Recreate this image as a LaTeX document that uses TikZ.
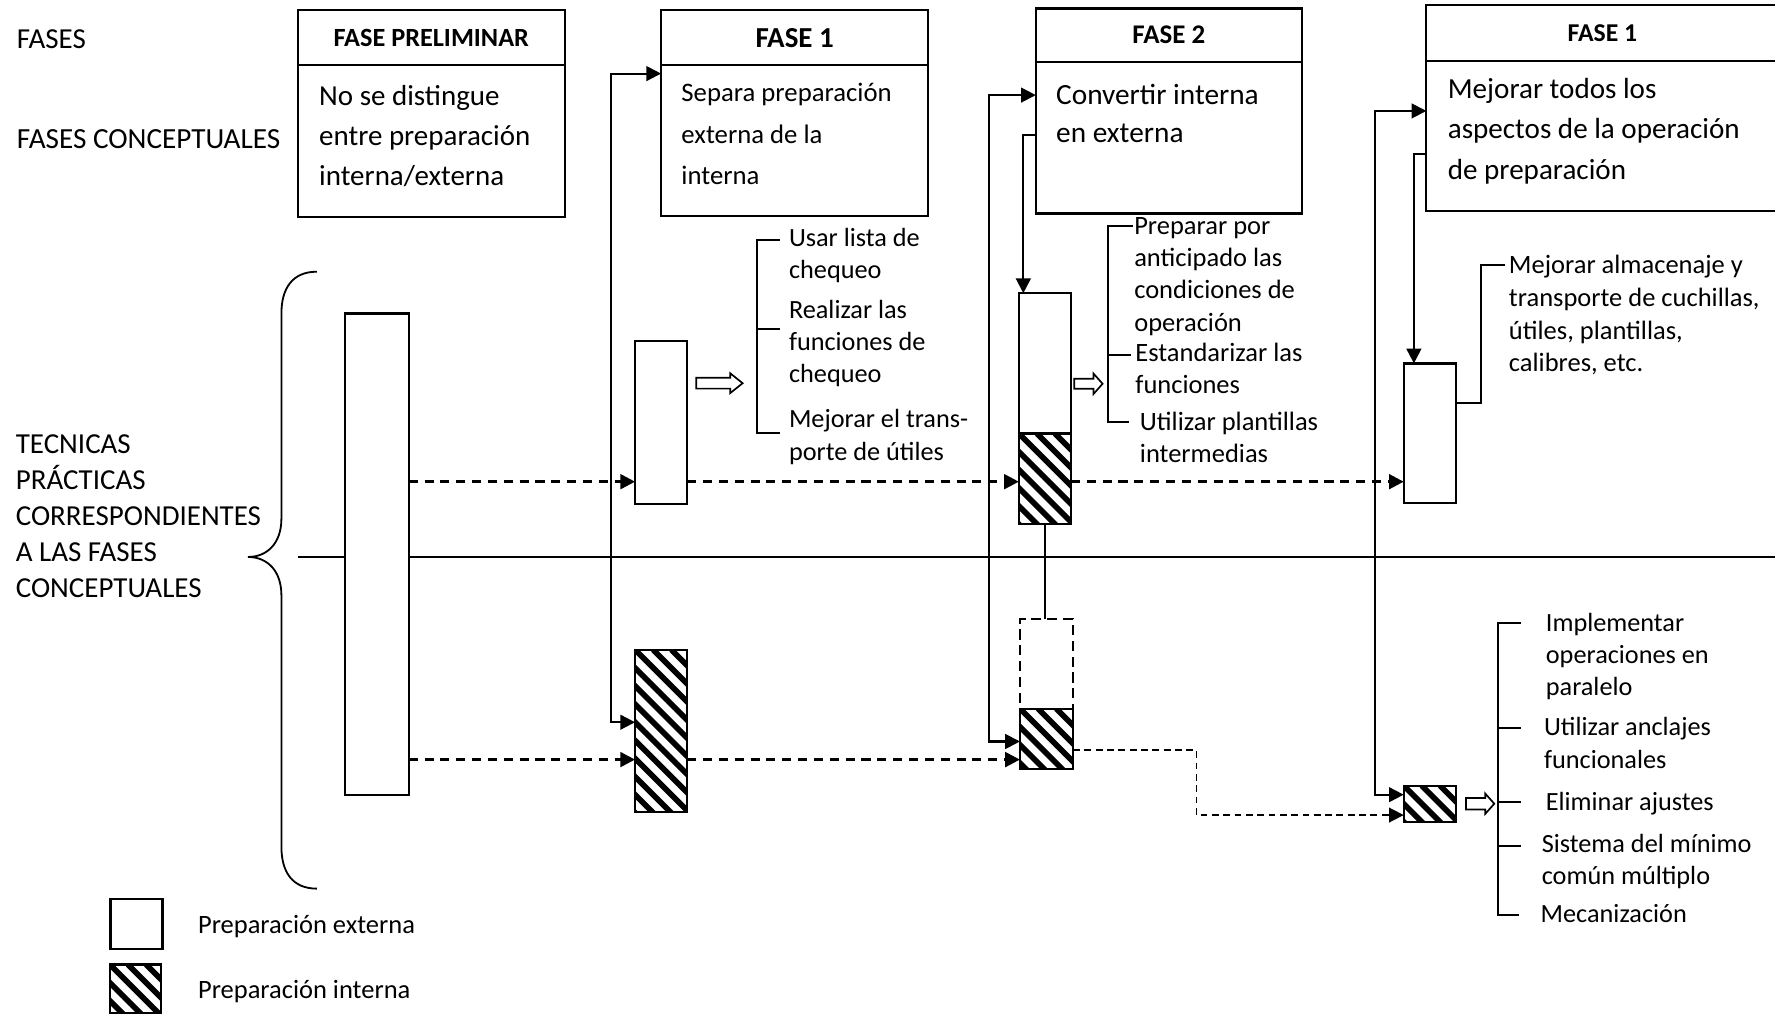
\documentclass[tikz,border=0pt]{standalone}
\usepackage{fontspec}
\setmainfont{Carlito}
\usetikzlibrary{arrows.meta,calc}
\newcommand\fsz[2]{\fontsize{#1}{#2}\selectfont}
% outlined block arrow: x-start, x-end, y, shaft half-height, head half-height, head length
\newcommand\hollowarrow[6]{%
  \draw[hollow] (#1,#3-#4) -- (#2-#6,#3-#4) -- (#2-#6,#3-#5) -- (#2,#3)
    -- (#2-#6,#3+#5) -- (#2-#6,#3+#4) -- (#1,#3+#4) -- cycle;}
\begin{document}
\begin{tikzpicture}[x=1pt,y=-1pt,
  every node/.style={inner sep=0pt,outer sep=0pt},
  frame/.style={draw,line width=2pt,anchor=north west},
  extbox/.style={frame,fill=white},
  intbox/.style={frame,fill=white,path picture={
      \foreach \k in {-12,...,4}
        \draw[line width=5pt] ($(path picture bounding box.north west)+(\k*16,0)$) -- ++(220,220);}},
  ghostbox/.style={frame,line width=1.6pt,dash pattern=on 9pt off 5pt},
  lst/.style={anchor=north west,align=left},
  tip/.tip={Triangle[length=13pt,width=13pt]},
  fb/.style={line width=1.8pt,tip-tip},
  fbone/.style={line width=1.8pt,-tip},
  dasharrow/.style={line width=2.4pt,dash pattern=on 8pt off 6pt,-tip},
  thindash/.style={line width=1.5pt,dash pattern=on 6pt off 4pt,-tip},
  bracket/.style={line width=1.8pt},
  hollow/.style={line width=1.5pt,fill=white},
  titlefont/.style={font=\bfseries\fsz{#1}{#1}}
]
\useasboundingbox (0,0) rectangle (1568,898);

% row labels
\node[anchor=base west,font=\fsz{25.6}{30}] (lfases) at (15,43) {FASES};
\node[anchor=base west,font=\fsz{25.8}{30}] (lconc) at (15,131) {FASES CONCEPTUALES};
\node[lst,font=\fsz{25.6}{31.6}] (ltec) at (14,378.9)
  {\strut TECNICAS\\\strut PRÁCTICAS\\\strut CORRESPONDIENTES\\\strut A LAS FASES\\\strut CONCEPTUALES};

% separator between external and internal rows
\coordinate (hl0) at (263.6,492);
\coordinate (hl1) at (1570,492);
\draw[line width=1.5pt] (hl0) -- (hl1);

% curly brace
\draw[line width=1.6pt] (280,240) .. controls (258,240) and (248.6,255) .. (248.6,277)
  -- (248.6,458) .. controls (248.6,480) and (236,492) .. (219,492)
  .. controls (236,492) and (248.6,504) .. (248.6,526)
  -- (248.6,748) .. controls (248.6,770) and (258,785) .. (280,785);

% phase boxes
\node[frame,minimum width=236,minimum height=48.5,titlefont=23.2] (p0t) at (263,9) {FASE PRELIMINAR};
\node[frame,minimum width=236,minimum height=134] (p0b) at (263,57.5) {};
\node[lst,font=\fsz{25.6}{35.5}] (p0x) at (282,68.3)
  {\strut No se distingue\\\strut entre preparación\\\strut interna/externa};

\node[frame,minimum width=236,minimum height=48.5,titlefont=25.6] (p1t) at (584,9) {FASE 1};
\node[frame,minimum width=236,minimum height=133.5] (p1b) at (584,57.5) {};
\node[lst,font=\fsz{23.6}{36.5}] (p1x) at (602,64.5)
  {\strut Separa preparación\\\strut externa de la\\\strut interna};

\node[frame,minimum width=235,minimum height=47.1,titlefont=23.8] (p2t) at (915,7.4) {FASE 2};
\node[frame,minimum width=235,minimum height=134] (p2b) at (915,54.5) {};
\node[lst,font=\fsz{25.9}{34}] (p2x) at (933,68.2)
  {\strut Convertir interna\\\strut en externa};

\node[frame,minimum width=311,minimum height=49.2,titlefont=22.7] (p3t) at (1260,4.4) {FASE 1};
\node[frame,minimum width=311,minimum height=132.9] (p3b) at (1260,53.6) {};
\node[lst,font=\fsz{25.7}{36}] (p3x) at (1279,61.5)
  {\strut Mejorar todos los\\\strut aspectos de la operación\\\strut de preparación};

% preparation bars
\node[extbox,minimum width=56,minimum height=425] (bar) at (305,277) {};
\node[extbox,minimum width=46,minimum height=144] (A) at (561,301) {};
\node[intbox,minimum width=46,minimum height=143] (C) at (561,574) {};
\node[extbox,minimum width=46,minimum height=124] (B1) at (900,259) {};
\node[intbox,minimum width=46,minimum height=80] (B2) at (900,383) {};
\draw[line width=2.4pt] (B2.south) -- (B2.south |- 0,547);
\node[ghostbox,minimum width=47,minimum height=79] (E1) at (901,547) {};
\node[intbox,minimum width=47,minimum height=53] (E2) at (901,626) {};
\node[extbox,minimum width=46,minimum height=123.6] (D) at (1240,321) {};
\node[intbox,minimum width=46,minimum height=32] (F) at (1240,694) {};

% flow between the bars
\coordinate (r1) at (0,425.5);
\coordinate (r2) at (0,671);
\coordinate (r3) at (0,662.6);
\coordinate (r4) at (0,720);
\coordinate (xturn) at (1057,0);
\draw[dasharrow] (bar.east |- r1) -- (A.west |- r1);
\draw[dasharrow] (A.east |- r1) -- (B2.west |- r1);
\draw[dasharrow] (B2.east |- r1) -- (D.west |- r1);
\draw[dasharrow] (bar.east |- r2) -- (C.west |- r2);
\draw[dasharrow] (C.east |- r2) -- (E2.west |- r2);
\draw[thindash] (E2.east |- r3) -| (xturn |- r4) -- (F.west |- r4);

% links between phases and bars
\coordinate (v1) at (540,0);
\coordinate (v2) at (874,0);
\coordinate (v3) at (1215,0);
\coordinate (v4) at (904,0);
\coordinate (v5) at (1249,0);
\draw[fb] (p1b.west |- 0,65) -| (v1 |- 0,638) -- (C.west |- 0,638);
\draw[fb] (p2b.west |- 0,84) -| (v2 |- 0,655) -- (E2.west |- 0,655);
\draw[fb] (p3b.west |- 0,98) -| (v3 |- 0,702) -- (F.west |- 0,702);
\draw[fbone] (p2b.west |- 0,119) -| (v4 |- B1.north);
\draw[fbone] (p3b.west |- 0,136) -| (v5 |- D.north);

% techniques of phase 1
\hollowarrow{615}{656}{338.5}{4.8}{8.8}{11}
\coordinate (s1a) at (668.5,212);
\coordinate (s1b) at (668.5,382.6);
\draw[bracket] (689,212) -- (s1a) -- (s1b) -- (689,382.6);
\draw[bracket] (668.5,290.6) -- (689,290.6);
\node[lst,font=\fsz{23.2}{28.5}] (t1a) at (697,198) {\strut Usar lista de\\\strut chequeo};
\node[lst,font=\fsz{23.2}{28.5}] (t1b) at (697,261) {\strut Realizar las\\\strut funciones de\\\strut chequeo};
\node[lst,font=\fsz{23.2}{28.5}] (t1c) at (697,358) {\strut Mejorar el trans-\\\strut porte de útiles};

% techniques of phase 2
\hollowarrow{949}{974}{339}{4.4}{9}{8}
\coordinate (s2a) at (978.6,200);
\coordinate (s2b) at (978.6,372.5);
\draw[bracket] (1001,200) -- (s2a) -- (s2b) -- (997,372.5);
\draw[bracket] (978.6,314) -- (999,314);
\node[lst,font=\fsz{23.4}{28.5}] (t2a) at (1002,187) {\strut Preparar por\\\strut anticipado las\\\strut condiciones de\\\strut operación};
\node[lst,font=\fsz{23.4}{28.5}] (t2b) at (1003,299) {\strut Estandarizar las\\\strut funciones};
\node[lst,font=\fsz{23.4}{28.5}] (t2c) at (1007,360) {\strut Utilizar plantillas\\\strut intermedias};

% improvement of external preparation
\coordinate (m1) at (0,355.8);
\coordinate (j1) at (1308,234.5);
\coordinate (j2) at (1329.6,234.5);
\draw[bracket] (D.east |- m1) -| (j1) -- (j2);
\node[lst,font=\fsz{23.4}{29}] (t3) at (1333,221.2)
  {\strut Mejorar almacenaje y\\\strut transporte de cuchillas,\\\strut útiles, plantillas,\\\strut calibres, etc.};

% improvement of internal preparation
\hollowarrow{1295}{1320}{710}{5}{9}{8}
\coordinate (s4a) at (1323,550.6);
\coordinate (s4b) at (1323,808.5);
\draw[bracket] (1344,550.6) -- (s4a) -- (s4b) -- (1342,808.5);
\draw[bracket] (1323,643) -- (1344,643);
\draw[bracket] (1323,708.6) -- (1344,708.6);
\draw[bracket] (1323,747) -- (1344,747);
\node[lst,font=\fsz{23.2}{28.5}] (t4a) at (1365.6,537.6) {\strut Implementar\\\strut operaciones en\\\strut paralelo};
\node[lst,font=\fsz{23.2}{28.5}] (t4b) at (1364,630) {\strut Utilizar anclajes\\\strut funcionales};
\node[lst,font=\fsz{23.2}{28.5}] (t4c) at (1365.6,696) {\strut Eliminar ajustes};
\node[lst,font=\fsz{23.2}{28.5}] (t4d) at (1362,732.7) {\strut Sistema del mínimo\\\strut común múltiplo};
\node[lst,font=\fsz{23.2}{28.5}] (t4e) at (1361,794.6) {\strut Mecanización};

% legend
\node[extbox,minimum width=46,minimum height=44] (kext) at (97.5,794) {};
\node[intbox,minimum width=45,minimum height=43] (kint) at (97,852) {};
\node[anchor=base west,font=\fsz{23.4}{28}] (lext) at (175,824.4) {Preparación externa};
\node[anchor=base west,font=\fsz{23.4}{28}] (lint) at (175,882.4) {Preparación interna};
\end{tikzpicture}
\end{document}
